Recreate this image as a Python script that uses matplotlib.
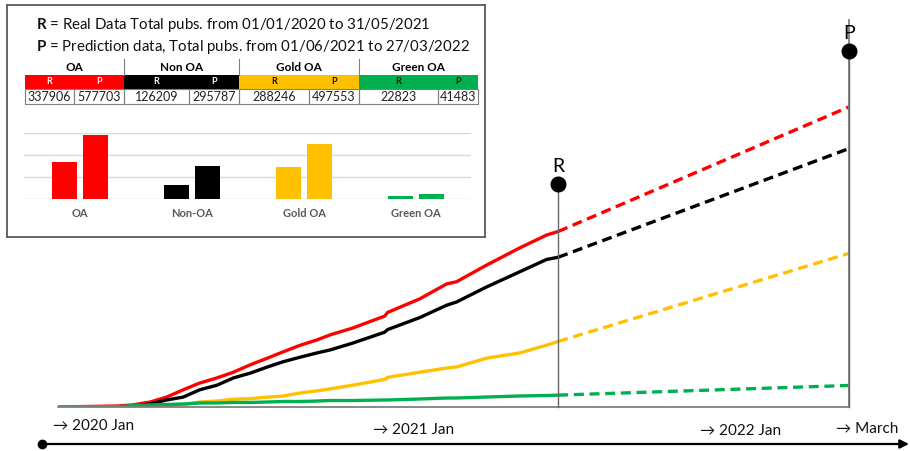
import matplotlib.pyplot as plt
import numpy as np

plt.rcParams['font.family'] = ['Lato', 'DejaVu Sans']
plt.rcParams['mathtext.fontset'] = 'custom'
plt.rcParams['mathtext.rm'] = 'Lato'
plt.rcParams['mathtext.bf'] = 'Lato:bold'

# ---- data ----
# real data: days since 01/01/2020, cumulative publications
real_days = [0, 61, 77, 95, 112, 129, 146, 164, 181, 198, 216, 232, 250, 267, 281, 304,
             337, 340, 373, 401, 411, 442, 476, 504, 516]
real_red = [0, 1900, 3900, 9600, 19000, 33000, 46000, 56000, 67000, 81000, 94000, 106000,
            119000, 129000, 139000, 152000, 175000, 182000, 208000, 237000, 241000,
            273000, 306000, 331000, 337906]
real_black = [0, 0, 1000, 5800, 13500, 19000, 33000, 42000, 56000, 65000, 77000, 87000,
              96000, 104000, 110000, 123000, 144000, 149000, 172000, 196000, 202000,
              231000, 260000, 284000, 288246]
real_yellow = [0, 0, 0, 0, 0, 3900, 9600, 11500, 15000, 16000, 19000, 21000, 27000,
               31000, 35000, 42000, 53000, 57000, 67000, 75000, 77000, 94000, 104000,
               119000, 126209]
real_green = [0, 0, 2900, 3900, 4800, 5800, 7700, 7700, 8700, 8700, 9600, 10600, 10600,
              11500, 12500, 12500, 13500, 13500, 15400, 17300, 17300, 19200, 21200,
              22100, 22823]

# prediction: from 31/05/2021 (day 516) to 27/03/2022 (day 816)
pred_days = [516, 816]
pred_red = [337906, 577703]
pred_black = [288246, 497553]
pred_yellow = [126209, 295787]
pred_green = [22823, 41483]

marker_days = [516, 816]
marker_vals = [430000, 685000]
marker_labels = ['R', 'P']

timeline_labels = ['→ 2020 Jan', '→ 2021 Jan', '→ 2022 Jan', '→ March']

# table / inset bars
groups = ['OA', 'Non OA', 'Gold OA', 'Green OA']
bar_labels = ['OA', 'Non-OA', 'Gold OA', 'Green OA']
vals_R = [337906, 126209, 288246, 22823]
vals_P = [577703, 295787, 497553, 41483]

RED, BLACK, GOLD, GREEN = '#ff0000', '#000000', '#ffc000', '#00b050'
colors = [RED, BLACK, GOLD, GREEN]

W, H = 910, 451
fig = plt.figure(figsize=(W / 100, H / 100), dpi=100)


def rect(x0, y0, x1, y1):
    return [x0 / W, 1 - y1 / H, (x1 - x0) / W, (y1 - y0) / H]


# ---- timeline at the bottom ----
tl = fig.add_axes([0, 0, 1, 1])
tl.set_xlim(0, W)
tl.set_ylim(H, 0)
tl.axis('off')
tl.annotate('', xy=(909, 444), xytext=(42, 444),
            arrowprops=dict(arrowstyle='-|>', lw=1.6, color='black', mutation_scale=13,
                            shrinkA=0, shrinkB=0))
tl.plot(42, 444, 'o', color='black', ms=6)
for lab, x, y in zip(timeline_labels, [53, 373, 700, 836], [426, 430, 431, 429]):
    tl.text(x, y, lab, fontsize=11, va='center', ha='left', color='#111111')

# ---- main chart ----
ax = fig.add_axes(rect(58, 20, 849, 407))
series = [(real_red, pred_red, RED), (real_black, pred_black, BLACK),
          (real_yellow, pred_yellow, GOLD), (real_green, pred_green, GREEN)]
for real, pred, c in series:
    ax.plot(real_days, real, color=c, lw=2.4, solid_capstyle='butt')
    ax.plot(pred_days, pred, color=c, lw=2.4, linestyle=(0, (3, 1.7)))

for d, v, lab in zip(marker_days, marker_vals, marker_labels):
    ax.plot([d, d], [0, v], color='#666666', lw=1.0, clip_on=False, zorder=3)
    ax.plot(d, v, 'o', color='black', ms=10.5, clip_on=False, zorder=4)
    ax.annotate(lab, (d, v), xytext=(0, 6.5), textcoords='offset points',
                ha='center', va='bottom', fontsize=14, color='black')

ax.set_xlim(0, 816)
ax.set_ylim(0, 745000)
ax.set_xticks([])
ax.set_yticks([])
for s in ['left', 'top']:
    ax.spines[s].set_visible(False)
for s in ['bottom', 'right']:
    ax.spines[s].set_color('#808080')
    ax.spines[s].set_linewidth(1.3)
ax.patch.set_alpha(0)

# ---- inset box ----
box = fig.add_axes(rect(7, 5, 485, 237))
box.set_xlim(7, 485)
box.set_ylim(237, 5)
box.set_xticks([])
box.set_yticks([])
box.set_facecolor('white')
for s in box.spines.values():
    s.set_color('#5a5a5a')
    s.set_linewidth(1.3)

box.text(36, 25, r'$\mathbf{R}$ = Real Data Total pubs. from 01/01/2020 to 31/05/2021',
         fontsize=10.8, va='center', ha='left', color='#111111')
box.text(36, 47, r'$\mathbf{P}$ = Prediction data, Total pubs. from 01/06/2021 to 27/03/2022',
         fontsize=10.8, va='center', ha='left', color='#111111')

edges = [25, 124, 239, 359, 478]
splits = [74, 189, 309, 438]
for i, g in enumerate(groups):
    x0, x1, xm = edges[i], edges[i + 1], splits[i]
    box.text((x0 + x1) / 2, 67.5, g, fontsize=8.5, fontweight='bold',
             ha='center', va='center')
    box.add_patch(plt.Rectangle((x0, 75), x1 - x0, 14, color=colors[i], lw=0))
    tc = 'white' if i < 2 else '#111111'
    box.text((x0 + xm) / 2, 82, 'R', fontsize=6.5, fontweight='bold', color=tc,
             ha='center', va='center')
    box.text((xm + x1) / 2, 82, 'P', fontsize=6.5, fontweight='bold', color=tc,
             ha='center', va='center')
    for a, b, v in [(x0, xm, vals_R[i]), (xm, x1, vals_P[i])]:
        box.add_patch(plt.Rectangle((a, 89), b - a, 15, fill=False,
                                    edgecolor='#7f7f7f', lw=0.8))
        box.text((a + b) / 2, 96.8, str(v), fontsize=9, ha='center', va='center',
                 color='#222222')
    if i > 0:
        box.plot([x0, x0], [59, 75], color='#7f7f7f', lw=0.8)

# ---- inset bar chart ----
bx = fig.add_axes(rect(24, 133, 471, 199))
x = np.arange(len(groups))
bw = 0.223
off = 0.138
bx.bar(x - off, vals_R, bw, color=colors, zorder=3)
bx.bar(x + off, vals_P, bw, color=colors, zorder=3)
bx.set_xlim(-0.5, 3.49)
bx.set_ylim(0, 600000)
bx.set_yticks([0, 200000, 400000, 600000])
bx.set_yticklabels([])
bx.grid(axis='y', color='#d9d9d9', lw=1.0, zorder=0)
bx.set_xticks(x, bar_labels)
bx.tick_params(length=0, axis='both')
bx.tick_params(axis='x', pad=6.5, labelsize=8, labelcolor='#595959')
for t in bx.get_xticklabels():
    t.set_fontweight('bold')
for s in bx.spines.values():
    s.set_visible(False)
bx.patch.set_alpha(0)

fig.savefig('out.png', dpi=100)
